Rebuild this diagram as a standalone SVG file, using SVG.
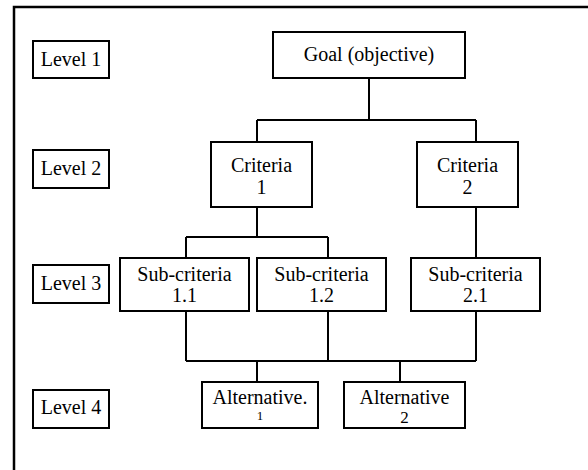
<svg xmlns="http://www.w3.org/2000/svg" width="588" height="470" viewBox="0 0 588 470">
<style>
.box{fill:#fff;stroke:#000;stroke-width:2}
text{font-family:'Liberation Serif',serif;font-size:20px;fill:#000;text-anchor:middle}
.c{fill:none;stroke:#000;stroke-width:2}
</style>
<rect width="588" height="470" fill="#fff"/>
<rect x="14" y="7" width="600" height="500" fill="none" stroke="#000" stroke-width="2.5"/>
<g id="connectors">
<path class="c" d="M369 78V120M257 120H476M257 120V142M476 120V142"/>
<path class="c" d="M257 207V237M186 237H328M186 237V258M328 237V258"/>
<path class="c" d="M476 207V258"/>
<path class="c" d="M186 311V361M328 311V361M476 311V361M186 361H476M257 361V382M400 361V382"/>
</g>
<g font-family="Liberation Serif">
<g id="level1"><rect class="box" x="33" y="41" width="76" height="37"/><text x="71" y="66">Level 1</text></g>
<g id="level2"><rect class="box" x="33" y="150" width="76" height="38"/><text x="71" y="175">Level 2</text></g>
<g id="level3"><rect class="box" x="33" y="265" width="76" height="38"/><text x="71" y="290">Level 3</text></g>
<g id="level4"><rect class="box" x="33" y="390" width="76" height="38"/><text x="71" y="414">Level 4</text></g>
<g id="goal"><rect class="box" x="273" y="32" width="192" height="46"/><text x="369" y="61">Goal (objective)</text></g>
<g id="criteria1"><rect class="box" x="211" y="142" width="101" height="65"/><text x="261.5" y="172">Criteria</text><text x="261.5" y="194">1</text></g>
<g id="criteria2"><rect class="box" x="417" y="142" width="101" height="65"/><text x="467.5" y="172">Criteria</text><text x="467.5" y="194">2</text></g>
<g id="sub11"><rect class="box" x="120" y="258" width="129" height="53"/><text x="184.5" y="281">Sub-criteria</text><text x="184.5" y="302">1.1</text></g>
<g id="sub12"><rect class="box" x="257" y="258" width="129" height="53"/><text x="321.5" y="281">Sub-criteria</text><text x="321.5" y="302">1.2</text></g>
<g id="sub21"><rect class="box" x="411" y="258" width="129" height="53"/><text x="475.5" y="281">Sub-criteria</text><text x="475.5" y="302">2.1</text></g>
<g id="alt1"><rect class="box" x="202" y="382" width="116" height="46"/><text x="260" y="404">Alternative.</text><text x="260" y="420" style="font-size:13px">1</text></g>
<g id="alt2"><rect class="box" x="344" y="382" width="121" height="46"/><text x="404.5" y="404">Alternative</text><text x="404.5" y="423" style="font-size:17px">2</text></g>
</g>
</svg>
